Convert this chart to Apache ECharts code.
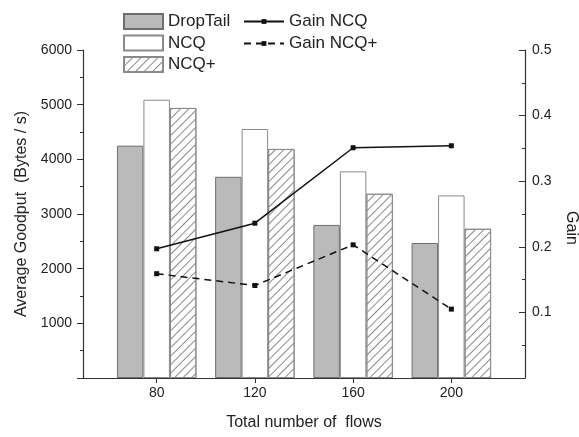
<!DOCTYPE html>
<html>
<head>
<meta charset="utf-8">
<script src="https://cdn.jsdelivr.net/npm/echarts@6/dist/echarts.min.js"></script>
<style>
  html, body { margin: 0; padding: 0; background: #fff; }
  #chart { width: 579px; height: 437px; }
</style>
</head>
<body>
<div id="chart"></div>
<script>
// flows on x, goodput (bytes/s) on left axis, gain on right axis
var flows = [80, 120, 160, 200];
var dropTail = [4250, 3680, 2800, 2470];
var ncq = [5090, 4555, 3780, 3340];
var ncqPlus = [4940, 4190, 3370, 2730];
var gainNcq = [0.197, 0.236, 0.351, 0.354];
var gainNcqPlus = [0.159, 0.141, 0.203, 0.105];

function pairs(ys) {
  var out = [];
  for (var i = 0; i < flows.length; i++) {
    out.push([flows[i], ys[i]]);
  }
  return out;
}

var font = "Liberation Sans";
var ink = "#222";

var myChart = echarts.init(document.getElementById("chart"));
var option = {
  animation: false,
  backgroundColor: "#fff",
  textStyle: { fontFamily: font, color: ink },
  grid: { left: 83, right: 54, top: 50, bottom: 59, outerBoundsMode: "none" },
  legend: [
    {
      data: ["DropTail", "NCQ", "NCQ+"],
      orient: "vertical",
      left: 123,
      top: 13,
      padding: 0,
      itemWidth: 39,
      itemHeight: 15,
      itemGap: 4.5,
      icon: "rect",
      textStyle: { fontFamily: font, fontSize: 17, color: ink, lineHeight: 16 },
    },
    {
      data: ["Gain NCQ", "Gain NCQ+"],
      orient: "vertical",
      left: 243,
      top: 13,
      padding: 0,
      itemWidth: 40,
      itemHeight: 6,
      itemGap: 5,
      textStyle: { fontFamily: font, fontSize: 17, color: ink, lineHeight: 16 },
    },
  ],
  xAxis: {
    type: "value",
    min: 50,
    max: 230,
    name: "Total number of  flows",
    nameLocation: "middle",
    nameGap: 37,
    nameTextStyle: { fontSize: 16, color: ink },
    axisLine: { lineStyle: { color: "#333", width: 1.2 } },
    axisTick: { show: true, length: 5, customValues: flows, lineStyle: { color: "#333" } },
    axisLabel: { customValues: flows, fontSize: 14, color: ink, margin: 8 },
    splitLine: { show: false },
  },
  yAxis: [
    {
      type: "value",
      min: 0,
      max: 6000,
      interval: 1000,
      name: "Average Goodput  (Bytes / s)",
      nameLocation: "middle",
      nameGap: 53,
      nameTextStyle: { fontSize: 16, color: ink },
      axisLine: { show: true, lineStyle: { color: "#333", width: 1.2 } },
      axisTick: { show: true, length: 6, lineStyle: { color: "#333" } },
      minorTick: { show: true, splitNumber: 2, length: 3, lineStyle: { color: "#333" } },
      axisLabel: {
        fontSize: 14,
        color: ink,
        margin: 11,
        formatter: function (v) { return v === 0 ? "" : v; },
      },
      splitLine: { show: false },
    },
    {
      type: "value",
      min: 0,
      max: 0.5,
      interval: 0.1,
      position: "right",
      name: "Gain",
      nameLocation: "middle",
      nameGap: 38,
      nameRotate: -90,
      nameTextStyle: { fontSize: 16, color: ink, padding: [0, 0, 0, 28] },
      axisLine: { show: true, lineStyle: { color: "#333", width: 1.2 } },
      axisTick: { show: true, inside: true, length: 6, lineStyle: { color: "#333" } },
      minorTick: { show: true, splitNumber: 2, length: 3, lineStyle: { color: "#333" } },
      axisLabel: {
        fontSize: 14,
        color: ink,
        margin: 7,
        formatter: function (v) { return v === 0 ? "" : v.toFixed(1); },
      },
      splitLine: { show: false },
    },
  ],
  series: [
    {
      name: "DropTail",
      type: "bar",
      data: pairs(dropTail),
      barWidth: 26.5,
      barGap: "0%",
      itemStyle: { color: "#bababa", borderColor: "#6e6e6e", borderWidth: 1 },
    },
    {
      name: "NCQ",
      type: "bar",
      data: pairs(ncq),
      barWidth: 26.5,
      barGap: "0%",
      itemStyle: { color: "#ffffff", borderColor: "#8a8a8a", borderWidth: 1 },
    },
    {
      name: "NCQ+",
      type: "bar",
      data: pairs(ncqPlus),
      barWidth: 26.5,
      barGap: "0%",
      itemStyle: {
        color: "#ffffff",
        borderColor: "#8a8a8a",
        borderWidth: 1,
        decal: {
          symbol: "rect",
          symbolSize: 1,
          dashArrayX: [1, 0],
          dashArrayY: [1, 5],
          rotation: -Math.PI / 4,
          color: "#8a8a8a",
        },
      },
    },
    {
      name: "Gain NCQ",
      type: "line",
      yAxisIndex: 1,
      data: pairs(gainNcq),
      symbol: "rect",
      symbolSize: 5,
      itemStyle: { color: "#111" },
      lineStyle: { color: "#111", width: 1.5 },
    },
    {
      name: "Gain NCQ+",
      type: "line",
      yAxisIndex: 1,
      data: pairs(gainNcqPlus),
      symbol: "rect",
      symbolSize: 5,
      itemStyle: { color: "#111" },
      lineStyle: { color: "#111", width: 1.5, type: [7, 5] },
    },
  ],
};
myChart.setOption(option);
</script>
</body>
</html>
